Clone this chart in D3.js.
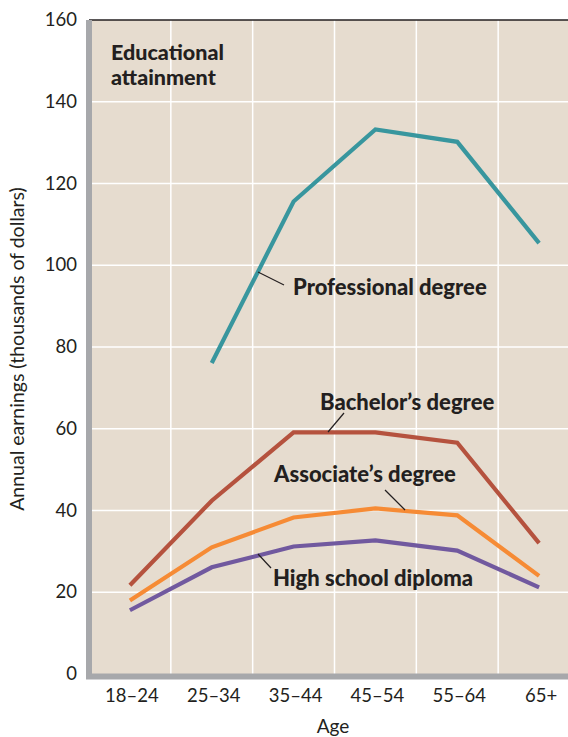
<!DOCTYPE html>
<html>
<head>
<meta charset="utf-8">
<script src="https://cdn.jsdelivr.net/npm/d3@7"></script>
<style>
  body { margin: 0; background: #fff; }
  svg { display: block; font-family: Lato, "Open Sans", sans-serif; }
</style>
</head>
<body>
<div id="chart"></div>
<script>
var ages = ["18–24", "25–34", "35–44", "45–54", "55–64", "65+"];
var yTicks = [0, 20, 40, 60, 80, 100, 120, 140, 160];

// annual earnings, thousands of dollars (null = not shown)
var highSchool   = [15.6, 26.1, 31.2, 32.7, 30.2, 21.2];
var associates   = [18.0, 31.0, 38.3, 40.5, 38.8, 24.0];
var bachelors    = [21.7, 42.4, 59.1, 59.1, 56.6, 32.0];
var professional = [null, 76.1, 115.6, 133.2, 130.2, 105.4];

var seriesNames  = ["Professional degree", "Bachelor’s degree", "Associate’s degree", "High school diploma"];

function init() {
    var w = 568, h = 737;

    var svg = d3.select("#chart")
        .append("svg")
        .attr("width", w)
        .attr("height", h);

    var xscale = d3.scaleBand()
        .domain(ages)
        .range([89, 580]);

    var yscale = d3.scaleLinear()
        .domain([0, 160])
        .range([674, 20]);

    // plot background
    svg.append("rect")
        .attr("x", 89).attr("y", yscale(160))
        .attr("width", w - 89).attr("height", yscale(0) - yscale(160))
        .attr("fill", "#e6dccf");

    // grid
    svg.selectAll("line.hgrid")
        .data(yTicks.slice(1, -1))
        .enter()
        .append("line")
        .attr("class", "hgrid")
        .attr("x1", 89).attr("x2", w)
        .attr("y1", function(d){ return yscale(d); })
        .attr("y2", function(d){ return yscale(d); })
        .attr("stroke", "#fff")
        .attr("stroke-width", 1.5);

    svg.selectAll("line.vgrid")
        .data(ages.slice(1))
        .enter()
        .append("line")
        .attr("class", "vgrid")
        .attr("x1", function(d){ return xscale(d); })
        .attr("x2", function(d){ return xscale(d); })
        .attr("y1", yscale(160)).attr("y2", yscale(0))
        .attr("stroke", "#fff")
        .attr("stroke-width", 1.5);

    // top border
    svg.append("line")
        .attr("x1", 89).attr("x2", w)
        .attr("y1", yscale(160)).attr("y2", yscale(160))
        .attr("stroke", "#231f20")
        .attr("stroke-width", 1.5);

    // series lines
    var series = [
        { name: seriesNames[0], values: professional, color: "#38969e" },
        { name: seriesNames[1], values: bachelors,    color: "#b5523e" },
        { name: seriesNames[2], values: associates,   color: "#f68b35" },
        { name: seriesNames[3], values: highSchool,   color: "#71599f" }
    ];

    var line = d3.line()
        .defined(function(d){ return d.v != null; })
        .x(function(d){ return xscale(d.age) + xscale.bandwidth() / 2; })
        .y(function(d){ return yscale(d.v); });

    svg.selectAll("path.series")
        .data(series.slice().reverse())
        .enter()
        .append("path")
        .attr("class", "series")
        .attr("d", function(s){
            return line(ages.map(function(a, i){ return { age: a, v: s.values[i] }; }));
        })
        .attr("fill", "none")
        .attr("stroke", function(s){ return s.color; })
        .attr("stroke-width", 4.2)
        .attr("stroke-linejoin", "miter");

    // L-shaped gray axis bars
    svg.append("path")
        .attr("d", "M89," + yscale(160) + " V" + (yscale(0) + 2.5) + " H" + w)
        .attr("fill", "none")
        .attr("stroke", "#a7a8ab")
        .attr("stroke-width", 6);

    // y tick labels
    svg.selectAll("text.ytick")
        .data(yTicks)
        .enter()
        .append("text")
        .attr("class", "ytick")
        .attr("x", 77)
        .attr("y", function(d){ return yscale(d) + 6; })
        .attr("text-anchor", "end")
        .attr("font-size", 18.5)
        .attr("fill", "#231f20")
        .text(function(d){ return d; });

    // x tick labels
    svg.selectAll("text.xtick")
        .data(ages)
        .enter()
        .append("text")
        .attr("class", "xtick")
        .attr("x", function(d){ return xscale(d) + xscale.bandwidth() / 2 + 2; })
        .attr("y", 702)
        .attr("text-anchor", "middle")
        .attr("font-size", 18.5)
        .attr("fill", "#231f20")
        .text(function(d){ return d; });

    // axis titles
    svg.append("text")
        .attr("x", 333).attr("y", 733)
        .attr("text-anchor", "middle")
        .attr("font-size", 19)
        .attr("fill", "#231f20")
        .text("Age");

    svg.append("text")
        .attr("transform", "translate(24,349) rotate(-90)")
        .attr("text-anchor", "middle")
        .attr("font-size", 19.5)
        .attr("fill", "#231f20")
        .text("Annual earnings (thousands of dollars)");

    // heading
    var head = svg.append("text")
        .attr("x", 111).attr("y", 60)
        .attr("font-size", 21.5)
        .attr("font-weight", 900)
        .attr("fill", "#231f20");
    head.append("tspan").attr("x", 111).text("Educational");
    head.append("tspan").attr("x", 111).attr("dy", 25).text("attainment");

    // series labels with leader lines
    var labels = [
        { text: seriesNames[0], x: 293, y: 295, l: [258, 272, 284, 285] },
        { text: seriesNames[1], x: 320, y: 410, l: [344, 413, 328, 432] },
        { text: seriesNames[2], x: 274, y: 482, l: [385, 490, 405, 510] },
        { text: seriesNames[3], x: 273, y: 586, l: [258, 554, 271, 568] }
    ];

    svg.selectAll("line.leader")
        .data(labels)
        .enter()
        .append("line")
        .attr("class", "leader")
        .attr("x1", function(d){ return d.l[0]; })
        .attr("y1", function(d){ return d.l[1]; })
        .attr("x2", function(d){ return d.l[2]; })
        .attr("y2", function(d){ return d.l[3]; })
        .attr("stroke", "#231f20")
        .attr("stroke-width", 1.2);

    svg.selectAll("text.slabel")
        .data(labels)
        .enter()
        .append("text")
        .attr("class", "slabel")
        .attr("x", function(d){ return d.x; })
        .attr("y", function(d){ return d.y; })
        .attr("font-size", 22)
        .attr("font-weight", 900)
        .attr("fill", "#231f20")
        .text(function(d){ return d.text; });
}

window.onload = init;
</script>
</body>
</html>
